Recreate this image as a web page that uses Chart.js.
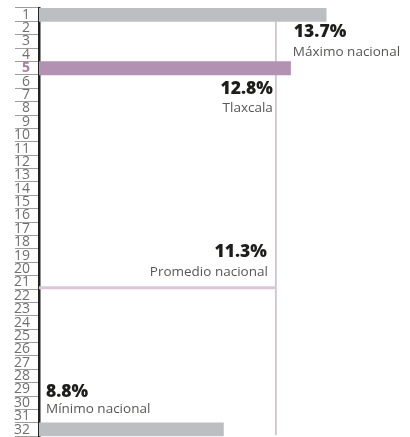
<!DOCTYPE html>
<html>
<head>
<meta charset="utf-8">
<script src="https://cdn.jsdelivr.net/npm/chart.js@4"></script>
<style>
    html, body { margin: 0; padding: 0; background: #fff; }
    #caja { width: 410px; height: 437px; }
</style>
</head>
<body>
<div id="caja"><canvas id="grafico"></canvas></div>
<script>
// filas del ranking
const filas = ['1', '2', '3', '4', '5', '6', '7', '8', '9', '10', '11', '12', '13', '14', '15', '16',
    '17', '18', '19', '20', '21', '22', '23', '24', '25', '26', '27', '28', '29', '30', '31', '32'];

// barras dibujadas (largo)
const filasBarras = ['1', '5', '32'];
const valoresBarras = [13.7, 12.0, 8.8];
const coloresBarras = ['#bdbec1', '#b391b3', '#bdbec1'];

const promedio = 11.3;
const filaPromedio = 21.4;

// textos de las anotaciones
const porcentajes = ['13.7%', '12.8%', '11.3%', '8.8%'];
const textos = ['Máximo nacional', 'Tlaxcala', 'Promedio nacional', 'Mínimo nacional'];

const filaDestacada = '5';

const anotaciones = {
    id: 'anotaciones',
    afterDatasetsDraw(chart) {
        const ctx = chart.ctx;
        const x = chart.scales.x;
        const y = chart.scales.y2;
        const xProm = x.getPixelForValue(promedio);
        const x0 = x.getPixelForValue(0);
        const bold = '800 17.5px "Open Sans"';
        const normal = '13.5px "Open Sans"';
        const items = [
            [porcentajes[0], bold, '#1d1d1b', 'left', xProm + 18, 2.68],
            [textos[0], normal, '#575756', 'left', xProm + 17, 4.12],
            [porcentajes[1], bold, '#1d1d1b', 'right', xProm - 3, 6.91],
            [textos[1], normal, '#575756', 'right', xProm - 3, 8.28],
            [porcentajes[2], bold, '#1d1d1b', 'right', xProm - 9, 19.1],
            [textos[2], normal, '#575756', 'right', xProm - 8, 20.55],
            [porcentajes[3], bold, '#1d1d1b', 'left', x0 + 7, 29.56],
            [textos[3], normal, '#575756', 'left', x0 + 7, 30.78]
        ];
        ctx.save();
        ctx.textBaseline = 'alphabetic';
        items.forEach(([t, f, c, a, px, fila]) => {
            ctx.font = f;
            ctx.fillStyle = c;
            ctx.textAlign = a;
            ctx.fillText(t, px, y.getPixelForValue(fila));
        });
        ctx.restore();
    }
};

new Chart(document.getElementById('grafico'), {
    type: 'bar',
    data: {
        datasets: [
            {
                type: 'bar',
                indexAxis: 'y',
                grouped: false,
                data: filasBarras.map((f, i) => ({ y: f, x: valoresBarras[i] })),
                backgroundColor: coloresBarras,
                barPercentage: 1,
                categoryPercentage: 1,
                xAxisID: 'x',
                yAxisID: 'y',
                order: 1
            },
            {
                type: 'line',
                data: [{ x: 0, y: filaPromedio }, { x: promedio, y: filaPromedio }],
                borderColor: '#dac8da',
                borderWidth: 3,
                pointRadius: 0,
                xAxisID: 'x',
                yAxisID: 'y2',
                order: 2
            },
            {
                type: 'line',
                data: [{ x: promedio, y: 1.5 }, { x: promedio, y: 32.4 }],
                borderColor: '#d4c0d5',
                borderWidth: 1.8,
                pointRadius: 0,
                xAxisID: 'x',
                yAxisID: 'y2',
                order: 2
            }
        ]
    },
    options: {
        responsive: true,
        maintainAspectRatio: false,
        animation: false,
        layout: { padding: { top: 8, bottom: 0.7, left: 0, right: 0 } },
        plugins: {
            legend: { display: false },
            tooltip: { enabled: false }
        },
        scales: {
            x: {
                type: 'linear',
                display: false,
                offset: false,
                min: 0,
                max: 17.7
            },
            y: {
                type: 'category',
                labels: filas,
                offset: true,
                z: 1,
                grid: {
                    offset: true,
                    drawOnChartArea: false,
                    tickLength: 24,
                    color: '#9d9d9c',
                    lineWidth: 1
                },
                border: { color: '#222221', width: 2.5 },
                ticks: {
                    autoSkip: false,
                    padding: -15,
                    color: c => filas[c.index] === filaDestacada ? '#a77ea8' : '#6f6f6e',
                    font: c => filas[c.index] === filaDestacada
                        ? { family: 'Open Sans', size: 14, weight: 'bold' }
                        : { family: 'Open Sans', size: 14 }
                },
                afterFit: s => { s.width = 39; }
            },
            y2: {
                type: 'linear',
                display: false,
                offset: false,
                grid: { offset: false },
                min: 0.5,
                max: 32.5,
                reverse: true
            }
        }
    },
    plugins: [anotaciones]
});
</script>
</body>
</html>
